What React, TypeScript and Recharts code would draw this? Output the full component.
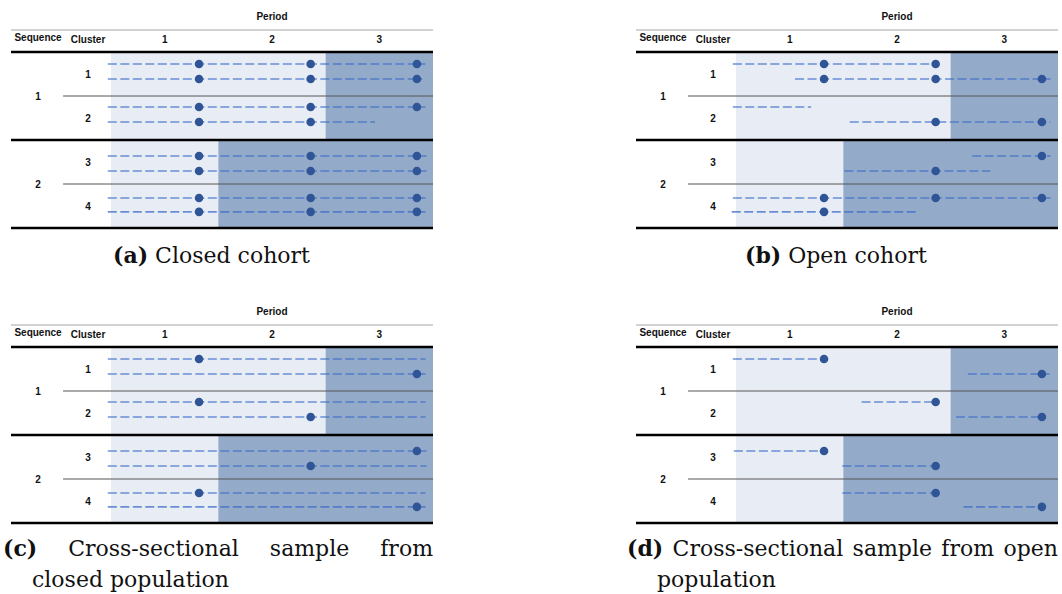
import React from 'react';
import { ComposedChart, XAxis, YAxis, Line, Scatter, ReferenceArea, ReferenceLine } from 'recharts';

// ---- layout-independent data ----
const periodLabels = ['1', '2', '3'];
const sequenceLabels = ['1', '2'];
const clusterLabels = ['1', '2', '3', '4'];
// observation time of each measurement within a period (in period units)
const measureTimes = [0.82, 1.86, 2.85];
// row positions (in row units, 3 units per cluster block)
const rowY = [0.82, 1.84, 3.75, 4.77, 7.09, 8.11, 9.95, 10.9];
// period in which intervention starts for each sequence
const sequenceSwitch = [2, 1];

// Panel (a) closed cohort
const closedCohortSegments = [
  [-0.03, 2.93], [-0.03, 2.9], [-0.03, 2.93], [-0.03, 2.46],
  [-0.03, 2.94], [-0.03, 2.94], [-0.03, 2.93], [-0.03, 2.93],
];
const closedCohortDots = [[0, 1, 2], [0, 1, 2], [0, 1, 2], [0, 1], [0, 1, 2], [0, 1, 2], [0, 1, 2], [0, 1, 2]];

// Panel (b) open cohort
const openCohortSegments = [
  [-0.03, 1.86], [0.55, 2.93], [-0.03, 0.7], [1.06, 2.93],
  [2.2, 2.93], [1.01, 2.37], [-0.03, 2.93], [-0.04, 1.68],
];
const openCohortDots = [[0, 1], [0, 1, 2], [], [1, 2], [2], [1], [0, 1, 2], [0]];

// Panel (c) cross-sectional, closed population
const crossClosedSegments = [
  [-0.03, 2.93], [-0.03, 2.93], [-0.03, 2.93], [-0.03, 2.93],
  [-0.03, 2.94], [-0.03, 2.94], [-0.03, 2.93], [-0.03, 2.93],
];
const crossClosedDots = [[0], [2], [0], [1], [2], [1], [0], [2]];

// Panel (d) cross-sectional, open population
const crossOpenSegments = [
  [-0.03, 0.82], [2.16, 2.92], [1.17, 1.86], [2.05, 2.85],
  [-0.02, 0.82], [0.99, 1.86], [0.99, 1.86], [2.12, 2.85],
];
const crossOpenDots = [[0], [2], [1], [2], [0], [1], [1], [2]];

const X_MIN = -0.932;
const X_MAX = 3;

const headerFont = "'Liberation Sans', Arial, sans-serif";

const TextShape = (props: any) => {
  const { cx, cy, payload } = props;
  return (
    <text
      x={cx}
      y={cy}
      textAnchor="middle"
      dominantBaseline="central"
      fontFamily={headerFont}
      fontWeight={700}
      fontSize={10}
      fill="#111"
    >
      {payload.label}
    </text>
  );
};

const DotShape = (props: any) => {
  const { cx, cy } = props;
  return <circle cx={cx} cy={cy} r={4.3} fill="#2f5597" />;
};

const headerTexts = [
  { x: 1.5, y: -2.39, label: 'Period' },
  { x: -0.68, y: -1.02, label: 'Sequence' },
  { x: -0.214, y: -0.86, label: 'Cluster' },
  ...periodLabels.map((p, i) => ({ x: i + 0.5, y: -0.86, label: p })),
  ...sequenceLabels.map((s, i) => ({ x: -0.68, y: 3 + i * 6, label: s })),
  ...clusterLabels.map((c, i) => ({ x: -0.214, y: 1.5 + i * 3, label: c })),
];

type PanelProps = {
  segments: number[][];
  dots: number[][];
  left: number;
  top: number;
};

const Panel = ({ segments, dots, left, top }: PanelProps) => {
  const dotData: { x: number; y: number }[] = [];
  dots.forEach((periods, r) => {
    periods.forEach((p) => dotData.push({ x: measureTimes[p], y: rowY[r] }));
  });
  return (
    <div style={{ position: 'absolute', left, top }}>
      <ComposedChart width={437} height={240} margin={{ top: 8, right: 4, bottom: 12, left: 11 }}>
        <XAxis type="number" dataKey="x" domain={[X_MIN, X_MAX]} hide allowDataOverflow />
        <YAxis type="number" dataKey="y" domain={[-3, 12]} reversed hide allowDataOverflow />
        <ReferenceArea x1={0} x2={3} y1={0} y2={12} fill="#e8edf5" fillOpacity={1} stroke="none" />
        {sequenceSwitch.map((s, i) => (
          <ReferenceArea key={'d' + i} x1={s} x2={3} y1={i * 6} y2={(i + 1) * 6} fill="#94aac9" fillOpacity={1} stroke="none" />
        ))}
        <ReferenceLine segment={[{ x: X_MIN, y: -1.5 }, { x: X_MAX, y: -1.5 }]} stroke="#a6a6a6" strokeWidth={1} />
        {[0, 6, 12].map((y) => (
          <ReferenceLine key={'t' + y} segment={[{ x: X_MIN, y }, { x: X_MAX, y }]} stroke="#000" strokeWidth={2.6} />
        ))}
        {[3, 9].map((y) => (
          <ReferenceLine key={'c' + y} segment={[{ x: -0.447, y }, { x: X_MAX, y }]} stroke="#555" strokeWidth={1} />
        ))}
        {segments.map((seg, r) => (
          <Line
            key={'l' + r}
            data={[{ x: seg[0], y: rowY[r] }, { x: seg[1], y: rowY[r] }]}
            dataKey="y"
            type="linear"
            stroke="#3d6cc8"
            strokeOpacity={0.75}
            strokeWidth={1.6}
            strokeDasharray="9 3.5"
            dot={false}
            activeDot={false}
            isAnimationActive={false}
          />
        ))}
        <Scatter data={dotData} dataKey="y" shape={DotShape} isAnimationActive={false} />
        <Scatter data={headerTexts} dataKey="y" shape={TextShape} isAnimationActive={false} />
      </ComposedChart>
    </div>
  );
};

const captionStyle: React.CSSProperties = {
  position: 'absolute',
  fontFamily: "'DejaVu Serif', serif",
  fontSize: 22,
  lineHeight: '26px',
  color: '#111',
  whiteSpace: 'nowrap',
};

const justifyStyle: React.CSSProperties = {
  ...captionStyle,
  whiteSpace: 'normal',
  textAlign: 'justify',
  textAlignLast: 'justify',
};

export default function App() {
  return (
    <div style={{ position: 'absolute', left: 0, top: 0, width: 1062, height: 594, overflow: 'hidden', background: '#fff' }}>
      <Panel segments={closedCohortSegments} dots={closedCohortDots} left={0} top={0} />
      <Panel segments={openCohortSegments} dots={openCohortDots} left={625} top={0} />
      <Panel segments={crossClosedSegments} dots={crossClosedDots} left={0} top={295} />
      <Panel segments={crossOpenSegments} dots={crossOpenDots} left={625} top={295} />

      <div style={{ ...captionStyle, left: 113, top: 242 }}>
        <b>(a)</b> Closed cohort
      </div>
      <div style={{ ...captionStyle, left: 745, top: 242 }}>
        <b>(b)</b> Open cohort
      </div>
      <div style={{ ...justifyStyle, left: 3, top: 535, width: 430 }}>
        <b>(c)</b> Cross-sectional sample from
      </div>
      <div style={{ ...captionStyle, left: 32, top: 567 }}>closed population</div>
      <div style={{ ...justifyStyle, left: 627, top: 535, width: 431 }}>
        <b>(d)</b> Cross-sectional sample from open
      </div>
      <div style={{ ...captionStyle, left: 657, top: 567 }}>population</div>
    </div>
  );
}
